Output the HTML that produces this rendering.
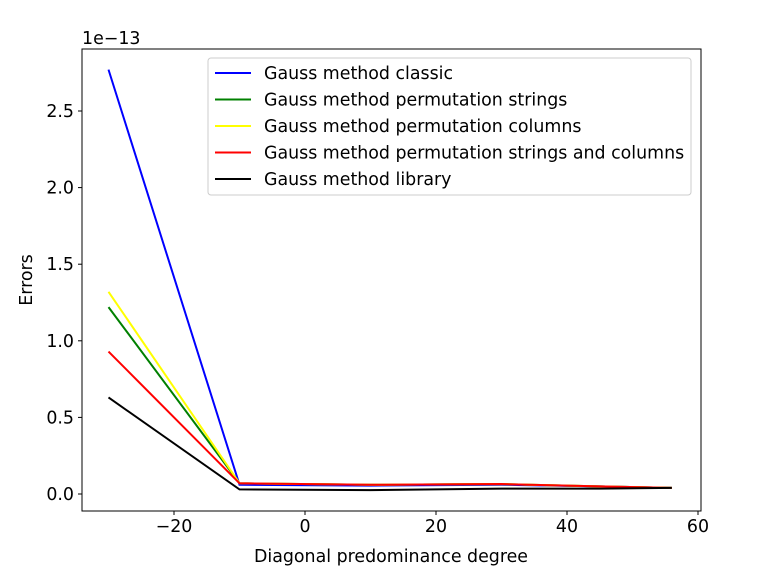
<!DOCTYPE html>
<html><head><meta charset="utf-8"><style>
body{margin:0;background:#fff;}
svg text{font-family:"DejaVu Sans","Liberation Sans",sans-serif;font-size:17.4px;fill:#000;}
</style></head><body>
<svg id="chart" width="759" height="568" xmlns="http://www.w3.org/2000/svg"></svg>
<script>
const xValues = [-30, -10, 10, 30, 45, 56];
const seriesNames = ["Gauss method classic","Gauss method permutation strings","Gauss method permutation columns","Gauss method permutation strings and columns","Gauss method library"];
const seriesColors = ["#0000ff","#008000","#ffff00","#ff0000","#000000"];
const blueVals = [2.77, 0.06, 0.055, 0.06, 0.05, 0.04];
const greenVals = [1.22, 0.07, 0.06, 0.065, 0.05, 0.04];
const yellowVals = [1.32, 0.07, 0.06, 0.065, 0.05, 0.04];
const redVals = [0.93, 0.07, 0.06, 0.065, 0.05, 0.04];
const blackVals = [0.63, 0.03, 0.025, 0.035, 0.035, 0.04];
const xTicks = [-20, 0, 20, 40, 60];
const yTicks = [0.0, 0.5, 1.0, 1.5, 2.0, 2.5];

const NS="http://www.w3.org/2000/svg";
const svg=document.getElementById('chart');
const L=82,R=701,T=49,B=511;
const xs=v=>305+v*6.55;
const ys=v=>494-v*153.2;
function mk(t,a,p){const e=document.createElementNS(NS,t);for(const k in a)e.setAttribute(k,a[k]);(p||svg).appendChild(e);return e;}

const allSeries=[blueVals,greenVals,yellowVals,redVals,blackVals];
allSeries.forEach((vals,i)=>{
  const pts=vals.map((v,j)=>xs(xValues[j])+","+ys(v)).join(" ");
  const pl=mk('polyline',{points:pts,fill:'none',stroke:seriesColors[i],'stroke-width':2});
  
  
});

const frame=mk('rect',{x:L,y:T,width:R-L,height:B-T,fill:'none',stroke:'#000','stroke-width':1});



xTicks.forEach(t=>{
  const x=xs(t);
  mk('line',{x1:x,x2:x,y1:B,y2:B+4,stroke:'#000'});
  const tx=mk('text',{x:x,y:B+21,'text-anchor':'middle'});
  tx.textContent=(t<0?'\u2212'+(-t):t);
  
  
});
yTicks.forEach(t=>{
  const y=ys(t);
  mk('line',{x1:L-4,x2:L,y1:y,y2:y,stroke:'#000'});
  const tx=mk('text',{x:L-8,y:y+6,'text-anchor':'end'});
  tx.textContent=t.toFixed(1);
  
  
});
const off=mk('text',{x:82,y:44});off.textContent='1e\u221213';


const xt=mk('text',{x:391,y:562,'text-anchor':'middle'});xt.textContent='Diagonal predominance degree';


const yt=mk('text',{x:32,y:280,'text-anchor':'middle',transform:'rotate(-90 32 280)'});yt.textContent='Errors';



const lg=mk('g',{});


mk('rect',{x:208,y:58,width:483,height:137,rx:3,fill:'#fff',stroke:'#ccc'},lg);
seriesNames.forEach((n,i)=>{
  const y=73+i*26.5;
  const g=mk('g',{},lg);
  
  
  mk('line',{x1:215,x2:251,y1:y,y2:y,stroke:seriesColors[i],'stroke-width':2},g);
  const t=mk('text',{x:264,y:y+6},g);t.textContent=n;
});
</script>
</body></html>
